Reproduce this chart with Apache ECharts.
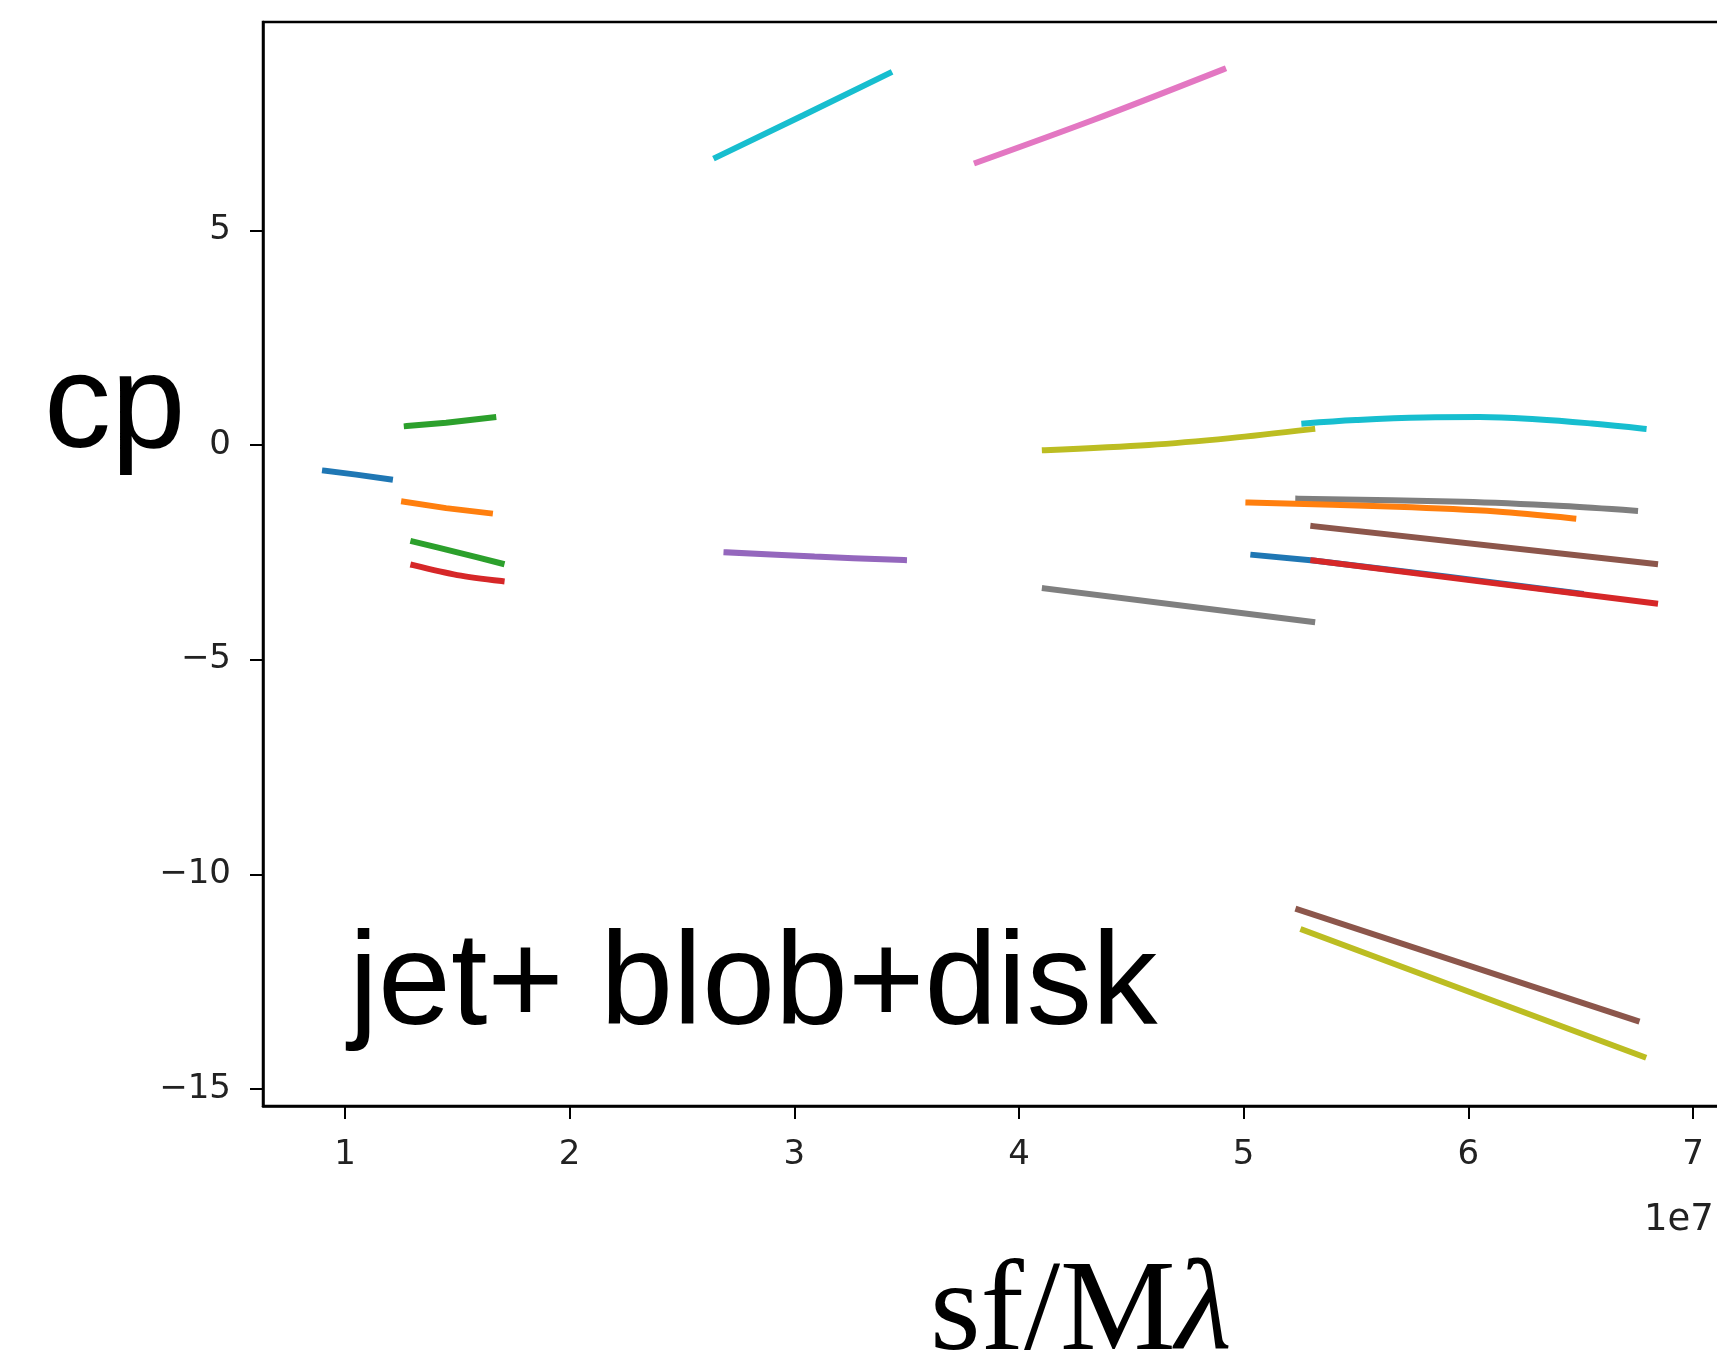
<!DOCTYPE html>
<html>
<head>
<meta charset="utf-8">
<script src="https://cdn.jsdelivr.net/npm/echarts@6/dist/echarts.min.js"></script>
<style>
  html, body { margin: 0; padding: 0; background: #fff; }
  #chart { width: 1717px; height: 1361px; }
</style>
</head>
<body>
<div id="chart"></div>
<script>
// x values in units of 1e7 (sf/Mλ), y values = cp
const xTicks = [1, 2, 3, 4, 5, 6, 7];
const yTicks = [-15, -10, -5, 0, 5];

const blueLeft    = [[0.911, -0.60], [1.05, -0.69], [1.20, -0.80]];
const greenUpper  = [[1.275, 0.44], [1.45, 0.52], [1.66, 0.645]];
const orangeLeft  = [[1.263, -1.32], [1.45, -1.47], [1.645, -1.59]];
const greenLower  = [[1.304, -2.25], [1.50, -2.50], [1.697, -2.76]];
const redLeft     = [[1.304, -2.80], [1.50, -3.03], [1.697, -3.17]];
const cyanTop     = [[2.652, 6.70], [3.04, 7.68], [3.423, 8.66]];
const purpleMid   = [[2.698, -2.50], [3.09, -2.60], [3.488, -2.68]];
const pinkTop     = [[3.812, 6.58], [4.33, 7.57], [4.909, 8.75]];
const grayMid     = [[4.115, -3.34], [5.305, -4.12]];
const cyanRight   = [[5.27, 0.50], [5.5, 0.58], [5.8, 0.64], [6.05, 0.65], [6.3, 0.60], [6.55, 0.50], [6.78, 0.38]];
const oliveMid    = [[4.115, -0.12], [4.578, 0.0], [4.94, 0.16], [5.305, 0.37]];
const grayRight   = [[5.243, -1.25], [5.978, -1.32], [6.423, -1.42], [6.742, -1.53]];
const orangeRight = [[5.021, -1.34], [5.681, -1.44], [6.126, -1.55], [6.467, -1.71]];
const brownRight  = [[5.31, -1.89], [6.831, -2.77]];
const blueRight   = [[5.043, -2.56], [5.31, -2.69], [5.9, -3.06], [6.5, -3.46]];
const redRight    = [[5.31, -2.69], [5.978, -3.13], [6.831, -3.69]];
const brownLow    = [[5.243, -10.82], [6.749, -13.41]];
const oliveLow    = [[5.265, -11.30], [6.779, -14.25]];

const segmentNames = ['blueLeft','greenUpper','orangeLeft','greenLower','redLeft','cyanTop','purpleMid','pinkTop','grayMid','cyanRight','oliveMid','grayRight','orangeRight','brownRight','blueRight','redRight','brownLow','oliveLow'];
const segmentData = [blueLeft, greenUpper, orangeLeft, greenLower, redLeft, cyanTop, purpleMid, pinkTop, grayMid, cyanRight, oliveMid, grayRight, orangeRight, brownRight, blueRight, redRight, brownLow, oliveLow];

// styling (tab10 palette)
const tab10 = { blue:'#1f77b4', orange:'#ff7f0e', green:'#2ca02c', red:'#d62728', purple:'#9467bd', brown:'#8c564b', pink:'#e377c2', gray:'#7f7f7f', olive:'#bcbd22', cyan:'#17becf' };
function colorOf(name) {
  for (const k in tab10) if (name.startsWith(k)) return tab10[k];
  return '#000';
}
const curved = { greenLower:0.3, redLeft:0.3, pinkTop:0.3, cyanRight:0.4, oliveMid:0.3, grayRight:0.3, orangeRight:0.3, purpleMid:0.3 };

const gridLeft = 263, gridTop = 22, gridW = 1470, gridH = 1084;
const pxPerX = 224.67, pxPerY = 42.93;
const xMin = 1 - (345 - gridLeft) / pxPerX;
const xMax = xMin + gridW / pxPerX;
const yMax = (445 - gridTop) / pxPerY;
const yMin = yMax - gridH / pxPerY;

const chart = echarts.init(document.getElementById('chart'), null, { renderer: 'canvas' });
const minus = v => String(v).replace('-', '\u2212');

chart.setOption({
  animation: false,
  backgroundColor: '#fff',
  grid: { left: gridLeft, top: gridTop, width: gridW, height: gridH, containLabel: false, outerBoundsMode: 'none',
          show: true, borderColor: '#000', borderWidth: 2.5, backgroundColor: 'transparent' },
  xAxis: {
    type: 'value', min: xMin, max: xMax,
    splitLine: { show: false },
    axisLine: { show: true, onZero: false, lineStyle: { color: '#000', width: 2.5 } },
    axisTick: { show: true, length: 13, customValues: xTicks, lineStyle: { color: '#000', width: 2 } },
    axisLabel: { customValues: xTicks, margin: 32, fontFamily: 'DejaVu Sans', fontSize: 34, color: '#222', formatter: v => minus(Math.round(v)) }
  },
  yAxis: {
    type: 'value', min: yMin, max: yMax,
    splitLine: { show: false },
    axisLine: { show: true, onZero: false, lineStyle: { color: '#000', width: 2.5 } },
    axisTick: { show: true, length: 13, customValues: yTicks, lineStyle: { color: '#000', width: 2 } },
    axisLabel: { customValues: yTicks, margin: 32, fontFamily: 'DejaVu Sans', fontSize: 34, color: '#222', formatter: v => minus(Math.round(v)) }
  },
  series: segmentData.map((d, i) => ({
    name: segmentNames[i],
    type: 'line',
    data: d,
    showSymbol: false,
    smooth: curved[segmentNames[i]] || false,
    lineStyle: { color: colorOf(segmentNames[i]), width: 6, cap: 'square' },
    itemStyle: { color: colorOf(segmentNames[i]) },
    z: 2 + i
  })),
  graphic: [
    { type: 'text', left: 44, top: 343, style: { text: 'cp', font: '134px "Liberation Sans"', fill: '#000', verticalAlign: 'top' } },
    { type: 'text', left: 349, top: 922, style: { text: 'jet+ blob+disk', font: '131px "Liberation Sans"', fill: '#000', verticalAlign: 'top' } },
    { type: 'text', left: 930, top: 1250, style: {
        text: '{a|sf/M}{b|λ}',
        rich: {
          a: { fontFamily: 'Liberation Serif', fontSize: 130, color: '#000' },
          b: { fontFamily: 'Liberation Serif', fontStyle: 'italic', fontSize: 130, color: '#000' }
        } } },
    { type: 'text', left: 1644, top: 1202, style: { text: '1e7', font: '37px "DejaVu Sans"', fill: '#222', verticalAlign: 'top' } }
  ]
});
</script>
</body>
</html>
